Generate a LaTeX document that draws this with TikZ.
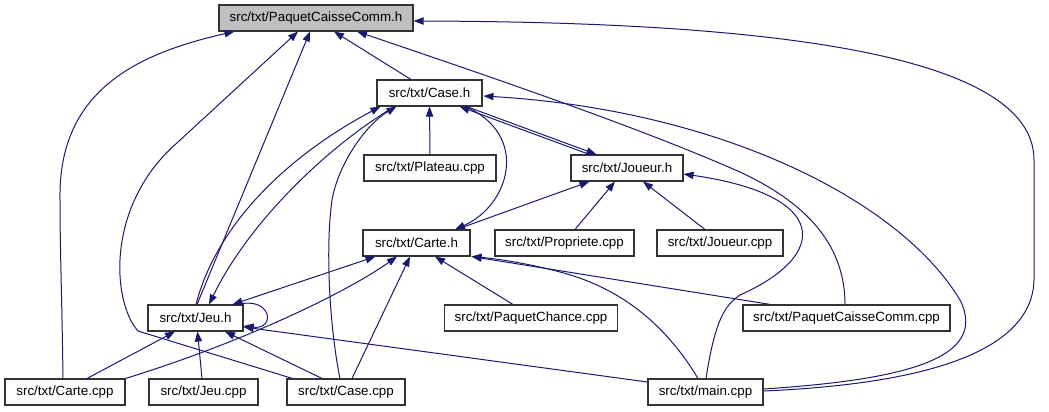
\documentclass[tikz,border=0pt]{standalone}
\usepackage{fontspec}
\setmainfont{Liberation Sans}
\usetikzlibrary{arrows.meta,calc}
\definecolor{dblue}{RGB}{25,25,112}
\definecolor{hgray}{RGB}{191,191,191}
\begin{document}
\begin{tikzpicture}[x=0.75pt,y=-0.75pt,
  box/.style={draw=black!80, line width=0.8pt, fill=white, minimum height=19.5pt, inner sep=0pt, font=\fontsize{10}{12}\selectfont},
  dep/.style={draw=dblue, line width=0.75pt, -{Triangle[length=7.5pt,width=5.5pt]}},
  depboth/.style={draw=dblue, line width=0.75pt, {Triangle[length=7.5pt,width=5.5pt]}-{Triangle[length=7.5pt,width=5.5pt]}}]
\useasboundingbox (0,0) rectangle (1049,411);
% nodes
\node[box, fill=hgray, minimum width=145.5pt] (pcch) at (316,18) {src/txt/PaquetCaisseComm.h};
\node[box, minimum width=78.75pt] (caseh) at (429.5,93) {src/txt/Case.h};
\node[box, minimum width=99pt] (plateau) at (430,168) {src/txt/Plateau.cpp};
\node[box, minimum width=84pt] (joueurh) at (627,168) {src/txt/Joueur.h};
\node[box, minimum width=80.25pt] (carteh) at (416.5,243) {src/txt/Carte.h};
\node[box, minimum width=104.25pt] (propriete) at (564.5,243) {src/txt/Propriete.cpp};
\node[box, minimum width=94.5pt] (joueurcpp) at (720,243) {src/txt/Joueur.cpp};
\node[box, minimum width=71.25pt] (jeuh) at (195.5,318) {src/txt/Jeu.h};
\node[box, minimum width=129.75pt] (paquetchance) at (531,318) {src/txt/PaquetChance.cpp};
\node[box, minimum width=155.25pt] (pcccpp) at (846.5,318) {src/txt/PaquetCaisseComm.cpp};
\node[box, minimum width=90pt] (cartecpp) at (65,392) {src/txt/Carte.cpp};
\node[box, minimum width=81.75pt] (jeucpp) at (203.5,392) {src/txt/Jeu.cpp};
\node[box, minimum width=88.5pt] (casecpp) at (346,392) {src/txt/Case.cpp};
\node[box, minimum width=86.25pt] (maincpp) at (705.5,392) {src/txt/main.cpp};
% edges to PaquetCaisseComm.h
\draw[dep] ($(caseh.north)+(-18.5,0)$) -- ($(pcch.south)+(18,0)$);
\draw[dep] ($(cartecpp.north)+(-2,0)$) .. controls (62,300) and (60,250) .. (60,200) .. controls (58,95) and (130,55) .. ($(pcch.south west)+(16,0)$);
\draw[dep] ($(casecpp.north west)+(6,0)$) -- (138,331) .. controls (112,302) and (105,205) .. (178,142) -- ($(pcch.south)+(-18,0)$);
\draw[dep] ($(jeuh.north)+(1.5,0)$) -- ($(pcch.south)+(-6,0)$);
\draw[dep] ($(pcccpp.north)+(-1.5,0)$) .. controls (845,240) and (800,200) .. (740,172) .. controls (640,128) and (500,80) .. ($(pcch.south)+(41,0)$);
\draw[dep] ($(maincpp.east)+(0,-1)$) .. controls (900,385) and (1032,360) .. (1034,280) -- (1034,160) .. controls (1034,50) and (750,22) .. ($(pcch.east)+(0,3)$);
% edges to Case.h
\draw[dep] (plateau.north) -- (caseh.south);
\draw[dep] ($(jeuh.north)+(0.5,0)$) .. controls (215,230) and (280,160) .. ($(caseh.south west)+(4,0)$);
\draw[dep] ($(caseh.south west)+(18,0)$) .. controls (330,145) and (250,220) .. ($(jeuh.north)+(13.5,0)$);
\draw[dep] ($(casecpp.north)+(-6,0)$) .. controls (330,330) and (325,250) .. (332,200) .. controls (338,165) and (365,125) .. ($(caseh.south west)+(20,0)$);
\draw[dep] ($(joueurh.north west)+(19,0)$) -- ($(caseh.south east)+(-23,0)$);
\draw[dep] ($(caseh.south east)+(-16,0)$) -- ($(joueurh.north west)+(26,0)$);
\draw[dep] ($(caseh.south east)+(-17,0)$) .. controls (530,135) and (510,205) .. ($(carteh.north)+(38.5,0)$);
\draw[dep] ($(maincpp.east)+(0,-3)$) .. controls (900,380) and (990,360) .. (960,300) .. controls (900,200) and (720,110) .. ($(caseh.east)+(1,3)$);
% edges to Joueur.h
\draw[dep] ($(carteh.north)+(40,0)$) -- ($(joueurh.south west)+(19,0)$);
\draw[dep] ($(propriete.north)+(10.5,0)$) -- ($(joueurh.south)+(-12,0)$);
\draw[dep] ($(joueurcpp.north)+(-15,0)$) -- ($(joueurh.south)+(16,0)$);
\draw[dep] ($(maincpp.north)+(0.5,0)$) .. controls (715,320) and (725,305) .. (740,295) .. controls (830,255) and (830,195) .. ($(joueurh.east)+(0,6)$);
% edges to Jeu.h
\draw[depboth] ($(jeuh.north east)+(-11,0)$) -- ($(carteh.south west)+(13,0)$);
\draw[dep] ($(jeuh.north east)+(-6,0)$) .. controls (272,296) and (276,330) .. ($(jeuh.east)+(0,8)$);
\draw[dep] ($(maincpp.west)+(0,-10)$) -- ($(jeuh.east)+(0,9)$);
\draw[dep] ($(cartecpp.north)+(22,0)$) -- ($(jeuh.south)+(-20.5,0)$);
\draw[dep] ($(jeucpp.north)+(-1.5,0)$) -- ($(jeuh.south)+(2,0)$);
\draw[dep] ($(casecpp.north)+(-24,0)$) -- ($(jeuh.south)+(29.5,0)$);
% edges to Carte.h
\draw[dep] (cartecpp.north east) .. controls (250,340) and (350,290) .. ($(carteh.south)+(-19.5,0)$);
\draw[dep] ($(casecpp.north)+(6,0)$) -- ($(carteh.south)+(-6.5,0)$);
\draw[dep] ($(paquetchance.north)+(-18,0)$) -- ($(carteh.south)+(18.5,0)$);
\draw[dep] ($(pcccpp.north west)+(28,0)$) -- ($(carteh.south east)+(1,0)$);
\draw[dep] ($(maincpp.north)+(-7.5,0)$) .. controls (660,315) and (610,285) .. (560,272) .. controls (530,264) and (500,259) .. ($(carteh.south east)+(1,0)$);
\end{tikzpicture}
\end{document}
